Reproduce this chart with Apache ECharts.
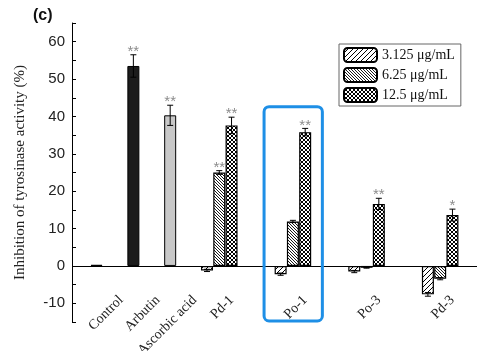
<!DOCTYPE html>
<html><head><meta charset="utf-8">
<script src="https://cdn.jsdelivr.net/npm/echarts@6/dist/echarts.min.js"></script>
<style>html,body{margin:0;padding:0;background:#fff}#c{width:500px;height:351px}</style>
</head><body><div id="c"></div>
<script>
// ---------- data ----------
const groups = ['Control', 'Arbutin', 'Ascorbic acid', 'Pd-1', 'Po-1', 'Po-3', 'Pd-3'];
const standardNames = ['Control', 'Arbutin', 'Ascorbic acid'];
const standardValues = [0.3, 53.5, 40.3];
const standardErrors = [0, 3.0, 2.7];
const standardSig = ['', '**', '**'];
const sampleNames = ['Pd-1', 'Po-1', 'Po-3', 'Pd-3'];
const concNames = ['3.125 μg/mL', '6.25 μg/mL', '12.5 μg/mL'];
const conc3125 = [-1.2, -2.2, -1.5, -7.6];
const conc3125Err = [0.3, 0.3, 0.3, 0.5];
const conc625 = [25.0, 11.9, -0.5, -3.4];
const conc625Err = [0.5, 0.3, 0.1, 0.3];
const conc125 = [37.6, 35.8, 16.6, 13.6];
const conc125Err = [2.2, 1.0, 1.5, 1.6];
const sig3125 = ['', '', '', ''];
const sig625 = ['**', '', '', ''];
const sig125 = ['**', '**', '**', '*'];
const yMin = -15, yMax = 65, yStep = 5, yLabelStep = 10;
const highlightGroup = 'Po-1';
const highlightTop = 42.6;
const highlightBottom = -15;

// ---------- layout (slots on a fine category axis) ----------
const slotMin = -2, slotMax = 31;
const slots = [];
for (let s = slotMin; s <= slotMax; s++) slots.push('s' + s);
const idx = s => s - slotMin;
const standardSlot = i => i * 3;
const sampleSlot = (g, c) => 9 + g * 6 + c;
const labelSlot = {};
standardNames.forEach((n, i) => labelSlot[idx(standardSlot(i) + 2)] = n);
sampleNames.forEach((n, g) => labelSlot[idx(sampleSlot(g, 2))] = n);

function emptyArr() { return slots.map(() => '-'); }

// patterns
function makePattern(size, kind, lw) {
  const c = document.createElement('canvas');
  c.width = size; c.height = size;
  const ctx = c.getContext('2d');
  ctx.fillStyle = '#fff'; ctx.fillRect(0, 0, size, size);
  ctx.strokeStyle = '#000'; ctx.lineWidth = lw;
  const fwd = () => {
    ctx.beginPath();
    ctx.moveTo(-1, size + 1); ctx.lineTo(size + 1, -1);
    ctx.moveTo(-1, 1); ctx.lineTo(1, -1);
    ctx.moveTo(size - 1, size + 1); ctx.lineTo(size + 1, size - 1);
    ctx.stroke();
  };
  const back = () => {
    ctx.beginPath();
    ctx.moveTo(-1, -1); ctx.lineTo(size + 1, size + 1);
    ctx.moveTo(size - 1, -1); ctx.lineTo(size + 1, 1);
    ctx.moveTo(-1, size - 1); ctx.lineTo(1, size + 1);
    ctx.stroke();
  };
  if (kind === 'fwd') fwd();
  if (kind === 'back') back();
  if (kind === 'cross') { fwd(); back(); }
  return { image: c, repeat: 'repeat' };
}
const patterns = [makePattern(5, 'fwd', 1), makePattern(3, 'back', 0.9), makePattern(4, 'cross', 1)];

// bar data
const stdData = emptyArr();
const stdColors = ['#111', '#1c1c1c', '#c8c8c8'];
standardValues.forEach((v, i) => {
  stdData[idx(standardSlot(i))] = { value: v, itemStyle: { color: stdColors[i] } };
});
const concSeries = [conc3125, conc625, conc125];
const concErr = [conc3125Err, conc625Err, conc125Err];
const concSig = [sig3125, sig625, sig125];

const series = [];
series.push({
  type: 'bar', name: 'standards', data: stdData, barWidth: 12, barGap: '-100%',
  itemStyle: { borderColor: '#000', borderWidth: 1 }, z: 2,
  markLine: {
    silent: true, symbol: 'none', animation: false, z: 3,
    label: { show: false },
    lineStyle: { color: '#000', width: 1, type: 'solid' },
    data: [{ yAxis: 0 }]
  }
});
concSeries.forEach((vals, c) => {
  const d = emptyArr();
  vals.forEach((v, g) => { d[idx(sampleSlot(g, c))] = v; });
  series.push({
    type: 'bar', name: concNames[c], data: d, barWidth: 12, barGap: '-100%',
    itemStyle: { color: patterns[c], borderColor: '#000', borderWidth: 1.2 }, z: 2
  });
});

// error bars + significance
const errData = [];
standardValues.forEach((v, i) => errData.push([idx(standardSlot(i)), v, standardErrors[i], standardSig[i]]));
concSeries.forEach((vals, c) => vals.forEach((v, g) => errData.push([idx(sampleSlot(g, c)), v, concErr[c][g], concSig[c][g]])));

series.push({
  type: 'custom', name: 'err', z: 5, silent: true,
  data: errData,
  encode: { x: 0, y: 1 },
  renderItem: function (params, api) {
    const x = api.value(0), v = api.value(1), e = api.value(2);
    const sig = errData[params.dataIndex][3];
    const pTop = api.coord([x, v + e]);
    const pBot = api.coord([x, v - e]);
    const children = [];
    const st = { stroke: '#000', lineWidth: 1 };
    if (e > 0) {
      children.push({ type: 'line', shape: { x1: pTop[0], y1: pTop[1], x2: pBot[0], y2: pBot[1] }, style: st });
      children.push({ type: 'line', shape: { x1: pTop[0] - 3, y1: pTop[1], x2: pTop[0] + 3, y2: pTop[1] }, style: st });
      children.push({ type: 'line', shape: { x1: pBot[0] - 3, y1: pBot[1], x2: pBot[0] + 3, y2: pBot[1] }, style: st });
    }
    if (sig) {
      children.push({
        type: 'text',
        style: {
          x: pTop[0], y: pTop[1] - 3, text: sig, fill: '#8c8c8c',
          font: '15px "Liberation Sans", Arial, sans-serif',
          textAlign: 'center', textVerticalAlign: 'middle'
        }
      });
    }
    return { type: 'group', children };
  }
});

const chart = echarts.init(document.getElementById('c'), null, { renderer: 'canvas' });
chart.setOption({
  animation: false,
  backgroundColor: '#fff',
  title: {
    text: '(c)', left: 28, top: 3,
    textStyle: { fontSize: 16, fontWeight: 'bold', fontFamily: '"Liberation Sans", Arial, sans-serif', color: '#111' }
  },
  grid: { left: 72, right: 23, top: 23, bottom: 29, containLabel: false, outerBoundsMode: 'none' },
  legend: {
    data: concNames, orient: 'vertical', left: 339, top: 44,
    itemWidth: 33, itemHeight: 14, itemGap: 4,
    padding: [3, 6, 3, 4],
    backgroundColor: '#fff', borderColor: '#666', borderWidth: 1, borderRadius: 0,
    textStyle: { fontFamily: '"Liberation Serif", "Times New Roman", serif', fontSize: 14, color: '#111' }
  },
  xAxis: {
    type: 'category', data: slots, boundaryGap: false,
    axisLine: { show: false, onZero: false },
    axisTick: { show: false },
    axisLabel: {
      interval: 0, rotate: 45, margin: -24,
      formatter: (val, i) => labelSlot[i] || '',
      fontFamily: '"Liberation Serif", "Times New Roman", serif', fontSize: 14, color: '#222'
    },
    splitLine: { show: false }
  },
  yAxis: {
    type: 'value', min: yMin, max: yMax, interval: yStep,
    name: 'Inhibition of tyrosinase activity (%)', nameLocation: 'middle', nameGap: 44,
    nameTextStyle: { fontFamily: '"Liberation Serif", "Times New Roman", serif', fontSize: 15, color: '#222' },
    axisLine: { show: true, lineStyle: { color: '#000', width: 1 } },
    axisTick: { show: true, inside: true, length: 4, lineStyle: { color: '#000' } },
    axisLabel: {
      margin: 7, fontFamily: '"Liberation Sans", Arial, sans-serif', fontSize: 15, color: '#222',
      formatter: v => (v % yLabelStep === 0 ? String(v) : '')
    },
    splitLine: { show: false }
  },
  series: series
});

// highlight box around a group, positioned through the chart's scales
const hg = sampleNames.indexOf(highlightGroup);
const pL = chart.convertToPixel({ gridIndex: 0 }, [idx(sampleSlot(hg, 0)), highlightTop]);
const pR = chart.convertToPixel({ gridIndex: 0 }, [idx(sampleSlot(hg, 2)), highlightBottom]);
const slotW = chart.convertToPixel({ gridIndex: 0 }, [1, 0])[0] - chart.convertToPixel({ gridIndex: 0 }, [0, 0])[0];
chart.setOption({
  graphic: [{
    type: 'rect', z: 100,
    shape: { x: pL[0] - slotW * 1.35, y: pL[1], width: (pR[0] - pL[0]) + slotW * 2.75, height: pR[1] - pL[1] - 1, r: 5 },
    style: { fill: 'none', stroke: '#1e8fe6', lineWidth: 3 }
  }]
});
</script></body></html>
